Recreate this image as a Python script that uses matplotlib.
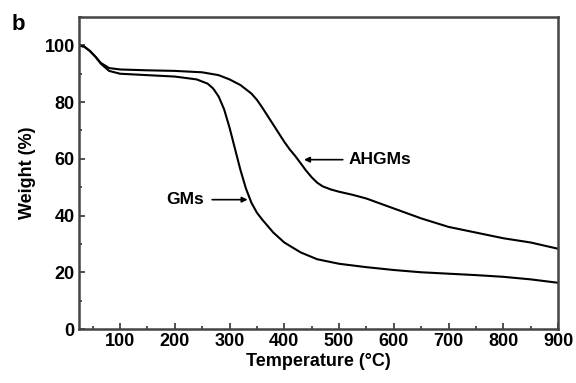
import numpy as np
import matplotlib.pyplot as plt
from matplotlib.ticker import MultipleLocator

plt.rcParams['font.family'] = ['Liberation Sans', 'DejaVu Sans']
plt.rcParams['font.weight'] = 'bold'

# TGA curves (temperature in C, weight in %)
T_gm = [25, 35, 45, 55, 65, 80, 100, 150, 200, 240, 260, 270, 280, 290, 300,
        310, 320, 330, 340, 350, 360, 380, 400, 430, 460, 500, 550, 600, 650,
        700, 750, 800, 850, 900]
w_gm = [100, 99.5, 98, 96, 93.5, 91, 90, 89.5, 89, 88, 86.5, 84.8, 82, 77.5, 71,
        63.5, 56, 49.5, 44.5, 41, 38.5, 34, 30.5, 27, 24.6, 23, 21.8, 20.8, 20,
        19.5, 19, 18.4, 17.5, 16.3]

T_ah = [25, 35, 45, 55, 65, 80, 100, 150, 200, 250, 280, 300, 320, 340, 350,
        360, 370, 380, 390, 400, 410, 420, 430, 440, 450, 460, 470, 485, 500,
        525, 550, 600, 650, 700, 750, 800, 850, 900]
w_ah = [100, 99.5, 98, 96, 93.8, 92, 91.5, 91.2, 91, 90.5, 89.5, 88, 86, 83, 80.8,
        78, 75, 72, 69, 66, 63.3, 61, 58.4, 55.8, 53.5, 51.6, 50.3, 49.2, 48.4,
        47.3, 46, 42.5, 39, 36, 34, 32, 30.5, 28.3]

fig = plt.figure(figsize=(5.76, 3.83), dpi=100)
ax = fig.add_axes([79/576, 1-329/383, (558-79)/576, (329-17)/383])

ax.plot(T_gm, w_gm, color='black', lw=1.5)
ax.plot(T_ah, w_ah, color='black', lw=1.5)

ax.set_xlim(25, 900)
ax.set_ylim(0, 110)
ax.xaxis.set_major_locator(MultipleLocator(100))
ax.xaxis.set_minor_locator(MultipleLocator(50))
ax.yaxis.set_major_locator(MultipleLocator(20))
ax.yaxis.set_minor_locator(MultipleLocator(10))
ax.tick_params(which='both', direction='in', top=False, right=False,
               labelsize=13, width=1.2, color='#333333', pad=3)
ax.tick_params(which='major', length=4)
ax.tick_params(which='minor', length=2)
for s in ax.spines.values():
    s.set_linewidth(1.8)
    s.set_color('#444444')

ax.set_xlabel('Temperature (°C)', fontsize=13, fontweight='bold', labelpad=2)
ax.set_ylabel('Weight (%)', fontsize=13, fontweight='bold', labelpad=6)

ax.annotate('AHGMs', xy=(436, 59.7), xytext=(517, 59.7), fontsize=12.5,
            fontweight='bold', va='center', ha='left',
            arrowprops=dict(arrowstyle='-|>', color='black', lw=1.2,
                            mutation_scale=8, shrinkA=2, shrinkB=0))
ax.annotate('GMs', xy=(333, 45.6), xytext=(253, 45.6), fontsize=12.5,
            fontweight='bold', va='center', ha='right',
            arrowprops=dict(arrowstyle='-|>', color='black', lw=1.2,
                            mutation_scale=8, shrinkA=4, shrinkB=0))

fig.text(12/576, 1-25/383, 'b', fontsize=16, fontweight='bold', va='center', ha='left')

fig.savefig('out.png', dpi=100)
